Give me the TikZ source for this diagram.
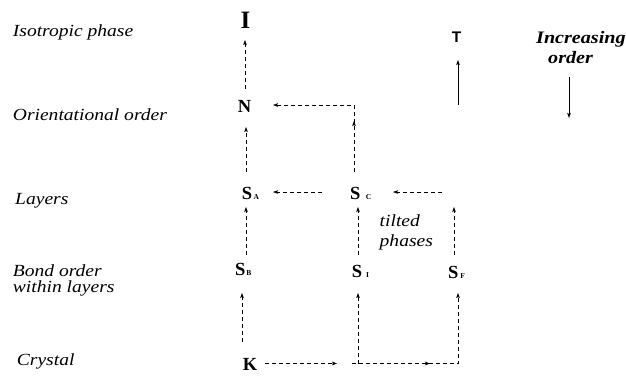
\documentclass[tikz,border=0pt]{standalone}
\usepackage{fontspec}
\setmainfont{Liberation Serif}
\newfontfamily\sansT{Liberation Sans}
% slightly widened serif for the captions
\newfontfamily\capfont{Liberation Serif}[FakeStretch=1.15]
\usetikzlibrary{arrows.meta,calc,decorations.markings}
% small index letter set after a phase symbol
\newcommand\phsub[1]{{\fontsize{7.5}{8}\selectfont #1}}
\begin{document}
\begin{tikzpicture}[x=1pt,y=-1pt,
  phase/.style={inner sep=0pt,anchor=base west,font=\fontsize{18.5}{20}\selectfont\bfseries},
  level/.style={inner sep=0pt,anchor=base west,align=left,font=\capfont\fontsize{17}{16}\selectfont\itshape},
  tip/.style={-{Stealth[length=5pt,width=3.6pt,inset=1pt]}},
  dl/.style={tip,line width=0.7pt,dash pattern=on 4pt off 3pt},
  sl/.style={tip,line width=0.7pt},
  midtip/.style={postaction=decorate,decoration={markings,
    mark=at position #1 with {\arrow{Stealth[length=5pt,width=3.6pt,inset=1pt]}}}}]
\useasboundingbox (0,0) rectangle (626,379);

% order levels (multi-line nodes sit on their last baseline)
\node[level] (lI) at (12.7,36.7) {Isotropic phase};
\node[level] (lN) at (12.7,120.7) {Orientational order};
\node[level] (lS) at (15,205) {Layers};
\node[level] (lB) at (12.7,292) {Bond order\\within layers};
\node[level] (lK) at (16.7,365) {Crystal};

% phases
\node[inner sep=0pt,anchor=base,font=\fontsize{25}{26}\selectfont\bfseries] (I) at (245.5,29) {I};
\node[inner sep=0pt,anchor=base,font=\fontsize{18.5}{20}\selectfont\bfseries] (N) at (244.5,113) {N};
\node[phase] (SA) at (241.7,199.3) {S\hspace{1.5pt}\phsub{A}};
\node[phase] (SC) at (350,199.5) {S\hspace{5.5pt}\phsub{C}};
\node[phase] (SB) at (235,275.5) {S\hspace{1pt}\phsub{B}};
\node[phase] (SI) at (351.7,277.7) {S\hspace{4pt}\phsub{I}};
\node[phase] (SF) at (448,278) {S\hspace{2pt}\phsub{F}};
\node[phase] (K) at (242.7,370) {K};
\node[level] (tp) at (379.5,246.7) {tilted\\[4pt]phases};

% temperature and order axes
\node[inner sep=0pt,anchor=base west,font=\fontsize{15.4}{16}\selectfont\sansT\bfseries] (T) at (451.7,42.7) {T};
\node[inner sep=0pt,anchor=base west,align=left,font=\capfont\fontsize{17.5}{20}\selectfont\bfseries\itshape] (inc) at (536,63.3) {Increasing\\\hspace*{12pt}order};
\draw[sl] ($(T.base west)+(6.3,62.3)$) -- ($(T.base west)+(6.3,17.3)$);
\draw[sl] ($(inc.base west)+(33,13.7)$) -- ($(inc.base west)+(33,54.7)$);

% transitions
\draw[dl] ($(N.base)+(0.5,-24)$) -- ($(I.base)+(-0.5,11)$);
\draw[dl] ($(SA.base west)+(4.3,-27.3)$) -- ($(N.base)+(1.5,14)$);
\draw[dl,midtip=51pt] ($(SC.base west)+(4,-27.5)$) |- ($(N.base)+(28.5,-8)$);
\draw[dl] ($(SC.base west)+(-28,-7.5)$) -- ($(SA.base west)+(31.3,-7.3)$);
\draw[dl] ($(SF.base west)+(-6,-86)$) -- ($(SC.base west)+(43,-7.5)$);
\draw[dl] ($(SF.base west)+(6,-23)$) -- ($(SF.base west)+(6,-71)$);
\draw[dl] ($(SB.base west)+(11,-20.5)$) -- ($(SA.base west)+(4.3,7.7)$);
\draw[dl] ($(SI.base west)+(6.3,-22.7)$) -- ($(SC.base west)+(8,7.5)$);
\draw[dl] ($(K.base west)+(-0.7,-28)$) -- ($(SB.base west)+(7,17.5)$);
\draw[dl] ($(K.base west)+(22.3,-6.5)$) -- ($(K.base west)+(94.3,-6.5)$);
\draw[dl,midtip=78pt] ($(K.base west)+(109.3,-6.5)$) -| ($(SF.base west)+(10,15)$);
\draw[dl] ($(SI.base west)+(6.3,85.8)$) -- ($(SI.base west)+(6.3,15.3)$);
\end{tikzpicture}
\end{document}
